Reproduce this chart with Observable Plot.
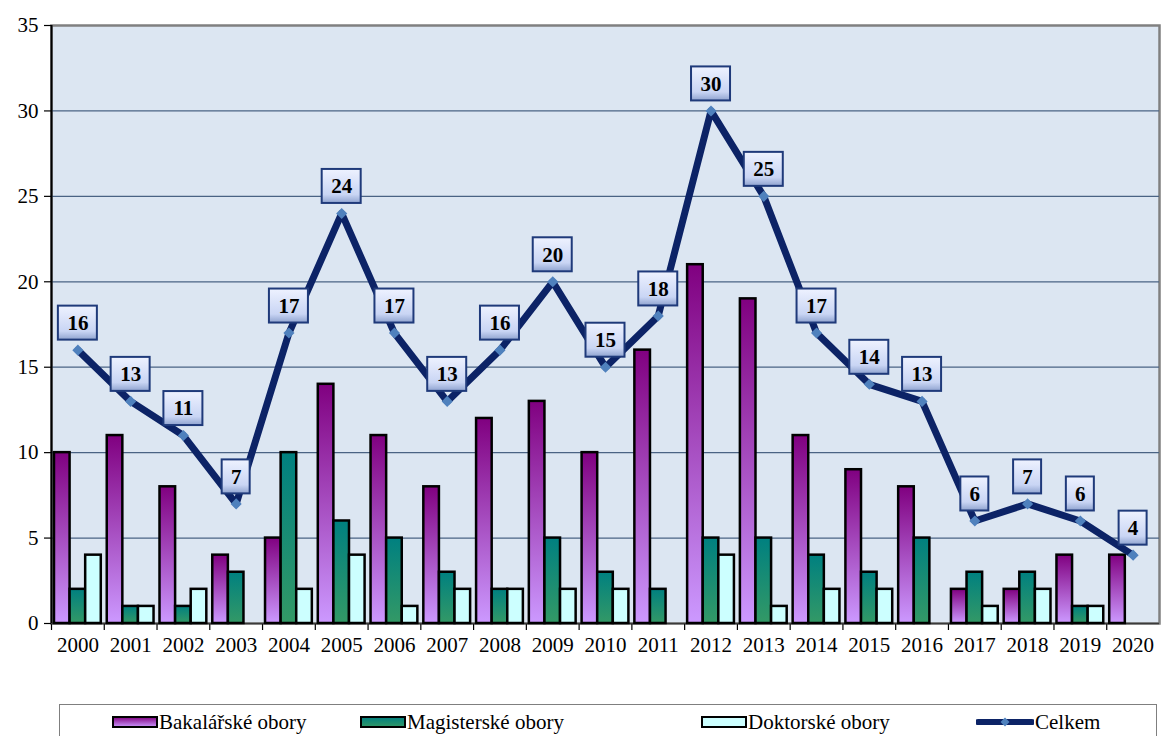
<!DOCTYPE html>
<html>
<head>
<meta charset="utf-8">
<script src="https://cdn.jsdelivr.net/npm/d3@7"></script>
<script src="https://cdn.jsdelivr.net/npm/@observablehq/plot@0.6"></script>
<style>
  html, body { margin: 0; padding: 0; background: #fff; overflow: hidden; }
  #wrap { position: relative; width: 1161px; height: 736px; }
  #legend { position: absolute; left: 59px; top: 704px; width: 1098px; height: 44px;
            border: 1.5px solid #7f7f7f; box-sizing: border-box; background: #fff;
            font-family: "Liberation Serif", "Times New Roman", serif; font-size: 21px; color: #000; }
  .item { position: absolute; top: 3px; display: flex; align-items: center; height: 28px; white-space: nowrap; }
  .item svg { display: block; margin-right: 1px; }
</style>
</head>
<body>
<div id="wrap">
  <div id="chart"></div>
  <div id="legend"></div>
</div>
<script>
// ---- data ----
const years = ["2000","2001","2002","2003","2004","2005","2006","2007","2008","2009","2010",
               "2011","2012","2013","2014","2015","2016","2017","2018","2019","2020"];
const bakalarske = [10, 11, 8, 4, 5, 14, 11, 8, 12, 13, 10, 16, 21, 19, 11, 9, 8, 2, 2, 4, 4];
const magisterske = [2, 1, 1, 3, 10, 6, 5, 3, 2, 5, 3, 2, 5, 5, 4, 3, 5, 3, 3, 1, 0];
const doktorske = [4, 1, 2, 0, 2, 4, 1, 2, 2, 2, 2, 0, 4, 1, 2, 2, 0, 1, 2, 1, 0];
const celkem = [16, 13, 11, 7, 17, 24, 17, 13, 16, 20, 15, 18, 30, 25, 17, 14, 13, 6, 7, 6, 4];
const yTicks = [0, 5, 10, 15, 20, 25, 30, 35];
const seriesNames = ["Bakalářské obory", "Magisterské obory", "Doktorské obory", "Celkem"];

const rows = years.map((y, i) => ({year: y, bak: bakalarske[i], mag: magisterske[i], dok: doktorske[i], tot: celkem[i]}));

// ---- layout ----
const W = 1161, H = 680, mL = 51, mR = 2, mT = 25, mB = 57;
const band = (W - mL - mR) / years.length;
const bw = 15.6;
const half = band / 2;
const FONT = "'Liberation Serif', 'Times New Roman', serif";

const chart = Plot.plot({
  width: W, height: H,
  marginLeft: mL, marginRight: mR, marginTop: mT, marginBottom: mB,
  style: {fontFamily: FONT, fontSize: "21px", background: "#fff", color: "#000", overflow: "visible"},
  x: {type: "band", domain: years, padding: 0, round: false, axis: null},
  y: {domain: [0, 35], axis: null},
  marks: [
    Plot.frame({fill: "#dce6f2", stroke: "#808080", strokeWidth: 2.5}),
    Plot.gridY({ticks: yTicks.slice(1, -1), stroke: "#4a6384", strokeOpacity: 1, strokeWidth: 1.2}),
    Plot.axisY({ticks: yTicks, tickSize: 7, tickPadding: 6, fontSize: 21, stroke: "#000", strokeWidth: 1.2, label: null}),
    Plot.axisX({tickSize: 0, tickPadding: 14, fontSize: 21, label: null}),
    Plot.axisX({tickSize: 7, tickFormat: () => "", dx: -half, stroke: "#000", strokeWidth: 1.2, label: null}),
    Plot.ruleY([0], {stroke: "#3a3a3a", strokeWidth: 1.5}),
    Plot.ruleX([years[0]], {dx: -half, y1: 0, y2: 35, stroke: "#000", strokeWidth: 2}),
    Plot.barY(rows.filter(d => d.bak > 0), {x: "year", y: "bak", fill: "url(#gBak)", stroke: "#000", strokeWidth: 2.5,
      insetLeft: half - 1.5 * bw, insetRight: band - (half - 0.5 * bw)}),
    Plot.barY(rows.filter(d => d.mag > 0), {x: "year", y: "mag", fill: "url(#gMag)", stroke: "#000", strokeWidth: 2.5,
      insetLeft: half - 0.5 * bw, insetRight: half - 0.5 * bw}),
    Plot.barY(rows.filter(d => d.dok > 0), {x: "year", y: "dok", fill: "#ccffff", stroke: "#000", strokeWidth: 2.5,
      insetLeft: half + 0.5 * bw, insetRight: band - (half + 1.5 * bw)}),
    Plot.line(rows, {x: "year", y: "tot", stroke: "#0c2366", strokeWidth: 7, strokeLinejoin: "round"}),
    Plot.dot(rows, {x: "year", y: "tot", symbol: "diamond2", r: 5, fill: "#4f81bd", stroke: "none"}),
    Plot.barY(rows.filter(d => d.tot >= 10), {x: "year", y1: "tot", y2: "tot", fill: "url(#gLab)", stroke: "#1f3a7a", strokeWidth: 2,
      insetLeft: half - 19.5, insetRight: half - 19.5, insetTop: -44, insetBottom: 10}),
    Plot.barY(rows.filter(d => d.tot < 10), {x: "year", y1: "tot", y2: "tot", fill: "url(#gLab)", stroke: "#1f3a7a", strokeWidth: 2,
      insetLeft: half - 14, insetRight: half - 14, insetTop: -44, insetBottom: 10}),
    Plot.text(rows, {x: "year", y: "tot", text: d => String(d.tot), dy: -27, fontWeight: "bold", fontSize: 21, fill: "#000"})
  ]
});

const defs = d3.create("svg:defs");
function grad(id, stops) {
  const g = defs.append("linearGradient").attr("id", id).attr("x1", 0).attr("y1", 0).attr("x2", 0).attr("y2", 1);
  stops.forEach(([o, c]) => g.append("stop").attr("offset", o).attr("stop-color", c));
}
grad("gBak", [[0, "#800080"], [1, "#cc99ff"]]);
grad("gMag", [[0, "#008080"], [1, "#339966"]]);
grad("gLab", [[0, "#eef2ff"], [0.75, "#c9d5f4"], [1, "#8fa3cf"]]);
chart.insertBefore(defs.node(), chart.firstChild);
document.getElementById("chart").appendChild(chart);

// ---- legend ----
const legend = document.getElementById("legend");
const items = [
  {name: seriesNames[0], left: 52, sw: `<rect x="1" y="1" width="44" height="10" fill="url(#lBak)" stroke="#000" stroke-width="2"/>`, w: 46},
  {name: seriesNames[1], left: 300, sw: `<rect x="1" y="1" width="44" height="10" fill="url(#lMag)" stroke="#000" stroke-width="2"/>`, w: 46},
  {name: seriesNames[2], left: 641, sw: `<rect x="1" y="1" width="44" height="10" fill="#ccffff" stroke="#000" stroke-width="2"/>`, w: 46},
  {name: seriesNames[3], left: 916, sw: `<line x1="2" y1="6" x2="56" y2="6" stroke="#0c2366" stroke-width="6" stroke-linecap="round"/><path d="M29,1.5 L33.5,6 L29,10.5 L24.5,6 Z" fill="#4f81bd"/>`, w: 58}
];
legend.innerHTML = `<svg width="0" height="0" style="position:absolute"><defs>
  <linearGradient id="lBak" x1="0" y1="0" x2="0" y2="1"><stop offset="0" stop-color="#800080"/><stop offset="1" stop-color="#cc99ff"/></linearGradient>
  <linearGradient id="lMag" x1="0" y1="0" x2="0" y2="1"><stop offset="0" stop-color="#008080"/><stop offset="1" stop-color="#339966"/></linearGradient>
</defs></svg>` + items.map(it =>
  `<div class="item" style="left:${it.left}px"><svg width="${it.w}" height="12">${it.sw}</svg><span>${it.name}</span></div>`).join("");
</script>
</body>
</html>
